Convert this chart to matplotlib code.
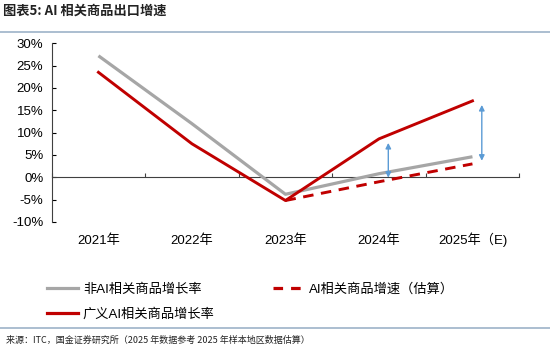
import matplotlib
matplotlib.use("Agg")
import matplotlib.pyplot as plt
from matplotlib.lines import Line2D

plt.rcParams["font.family"] = ["Liberation Sans", "Noto Sans CJK SC", "DejaVu Sans"]

years = ["2021年", "2022年", "2023年", "2024年", "2025年（E)"]
non_ai = [27.2, 12.0, -3.8, 0.8, 4.6]
broad_ai = [23.5, 7.5, -5.2, 8.6, 17.1]
est_years = [2, 3, 4]
ai_est = [-5.2, -1.0, 3.0]
yticks = [-10, -5, 0, 5, 10, 15, 20, 25, 30]

GRAY = "#A6A6A6"
RED = "#C00000"
BLUE = "#5B9BD5"

fig = plt.figure(figsize=(5.5, 3.49), dpi=100)
ax = fig.add_axes([0.094, 0.364, 0.850, 0.512])

x = list(range(len(years)))
ax.plot(x, non_ai, color=GRAY, lw=2.3, solid_capstyle="butt", zorder=3)
ax.plot(x, broad_ai, color=RED, lw=2.1, zorder=4)
ax.plot(est_years, ai_est, color=RED, lw=2.1, dashes=(3.6, 2.6), zorder=4)

# difference arrows
for i in (3, 4):
    ax.annotate("", xy=(i + 0.1, broad_ai[i] - 0.9), xytext=(i + 0.1, non_ai[i] - 0.9),
                arrowprops=dict(arrowstyle="<|-|>", color=BLUE, lw=1.0,
                                mutation_scale=8, shrinkA=0, shrinkB=0), zorder=5)

ax.set_xlim(-0.5, 4.5)
ax.set_ylim(-10, 30)
ax.set_yticks(yticks)
ax.set_yticklabels([f"{v}%" for v in yticks], fontsize=9.5)
ax.tick_params(axis="y", direction="in", length=3, width=0.8, pad=6, colors="black")

ax.spines["top"].set_visible(False)
ax.spines["right"].set_visible(False)
ax.spines["left"].set_color("#404040")
ax.spines["left"].set_linewidth(0.8)
ax.spines["bottom"].set_position(("data", 0))
ax.spines["bottom"].set_color("#404040")
ax.spines["bottom"].set_linewidth(0.8)

ax.set_xticks(x)
ax.set_xticklabels(years, fontsize=9.5)
for lab in ax.get_xticklabels():
    lab.set_va("baseline")
ax.set_xticks([-0.5, 0.5, 1.5, 2.5, 3.5, 4.5], minor=True)
ax.tick_params(axis="x", which="major", length=0, pad=48)
ax.tick_params(axis="x", which="minor", direction="in", length=3, width=0.8, color="#404040")

handles = [
    Line2D([], [], color=GRAY, lw=2.3),
    Line2D([], [], color=RED, lw=2.3),
    Line2D([], [], color=RED, lw=2.3, dashes=(3, 2.5)),
]
labels = ["非AI相关商品增长率", "广义AI相关商品增长率", "AI相关商品增速（估算）"]
fig.legend(handles, labels, loc="upper left", bbox_to_anchor=(0.068, 0.215), ncol=2,
           frameon=False, fontsize=9.5, handlelength=2.4, handletextpad=0.35,
           columnspacing=4.4, labelspacing=0.95, borderpad=0.2)

fig.text(0.006, 0.968, "图表5: AI 相关商品出口增速", fontsize=9.5, fontweight="bold",
         fontstyle="italic", color="#222222", va="center",
         family=["Noto Sans CJK SC", "DejaVu Sans"])
fig.add_artist(Line2D([0, 1], [0.908, 0.908], color="#9DB3C8", lw=1.2))
fig.add_artist(Line2D([0, 1], [0.061, 0.061], color="#9DB3C8", lw=1.2))
fig.text(0.01, 0.026, "来源：ITC，国金证券研究所（2025 年数据参考 2025 年样本地区数据估算）",
         fontsize=6.5, color="#222222", va="center",
         family=["Noto Sans CJK SC", "DejaVu Sans"])

fig.savefig("out.png", dpi=100)
